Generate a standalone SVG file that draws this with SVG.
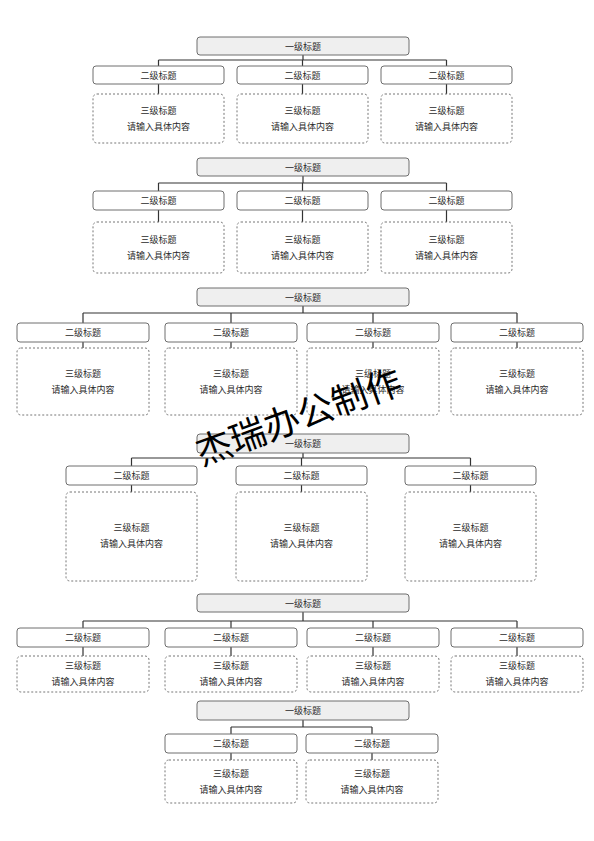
<svg xmlns="http://www.w3.org/2000/svg" width="594" height="841" viewBox="0 0 594 841">
<style>
.bg{fill:#ffffff}
.l1{fill:#efefef;stroke:#6e6e6e;stroke-width:1}
.l2{fill:#ffffff;stroke:#6e6e6e;stroke-width:1}
.l3{fill:#ffffff;stroke:#777777;stroke-width:1;stroke-dasharray:2 2}
.c{fill:none;stroke:#333333;stroke-width:1.2}
text{font-family:"Liberation Sans","Noto Sans CJK SC",sans-serif;font-size:9px;fill:#2a2a2a;text-anchor:middle}
.wm{font-family:"Noto Sans CJK SC",sans-serif;font-size:36px;fill:#000000}
</style>
<rect class="bg" x="0" y="0" width="594" height="841"/>
<g id="connectors">
<path class="c" d="M303 55V60M158.5 60H446.5M158.5 60V66M302.5 60V66M446.5 60V66M158.5 84V94M302.5 84V94M446.5 84V94"/>
<path class="c" d="M303 176V183M158.5 183H446.5M158.5 183V191M302.5 183V191M446.5 183V191M158.5 210V222M302.5 210V222M446.5 210V222"/>
<path class="c" d="M303 306V313M83 313H517M83 313V323M231 313V323M373 313V323M517 313V323M83 342V348M231 342V348M373 342V348M517 342V348"/>
<path class="c" d="M303 453V458M131.5 458H470.5M131.5 458V466M301.5 458V466M470.5 458V466M131.5 485V492M301.5 485V492M470.5 485V492"/>
<path class="c" d="M303 612V621M83 621H517M83 621V628M231 621V628M373 621V628M517 621V628M83 647V656M231 647V656M373 647V656M517 647V656"/>
<path class="c" d="M303 720V727M231 727H372M231 727V734M372 727V734M231 753V760M372 753V760"/>
</g>
<!-- Section 1 -->
<g id="s1-l1"><rect class="l1" x="197" y="37" width="212" height="18" rx="3"/><text x="303" y="49.5">一级标题</text></g>
<g id="s1-l2-1"><rect class="l2" x="93" y="66" width="131" height="18" rx="3"/><text x="158.5" y="78.5">二级标题</text></g>
<g id="s1-l2-2"><rect class="l2" x="237" y="66" width="131" height="18" rx="3"/><text x="302.5" y="78.5">二级标题</text></g>
<g id="s1-l2-3"><rect class="l2" x="381" y="66" width="131" height="18" rx="3"/><text x="446.5" y="78.5">二级标题</text></g>
<g id="s1-l3-1"><rect class="l3" x="93" y="94" width="131" height="49" rx="4"/><text x="158.5" y="114">三级标题</text><text x="158.5" y="130">请输入具体内容</text></g>
<g id="s1-l3-2"><rect class="l3" x="237" y="94" width="131" height="49" rx="4"/><text x="302.5" y="114">三级标题</text><text x="302.5" y="130">请输入具体内容</text></g>
<g id="s1-l3-3"><rect class="l3" x="381" y="94" width="131" height="49" rx="4"/><text x="446.5" y="114">三级标题</text><text x="446.5" y="130">请输入具体内容</text></g>
<!-- Section 2 -->
<g id="s2-l1"><rect class="l1" x="197" y="158" width="212" height="18" rx="3"/><text x="303" y="170.5">一级标题</text></g>
<g id="s2-l2-1"><rect class="l2" x="93" y="191" width="131" height="19" rx="3"/><text x="158.5" y="204">二级标题</text></g>
<g id="s2-l2-2"><rect class="l2" x="237" y="191" width="131" height="19" rx="3"/><text x="302.5" y="204">二级标题</text></g>
<g id="s2-l2-3"><rect class="l2" x="381" y="191" width="131" height="19" rx="3"/><text x="446.5" y="204">二级标题</text></g>
<g id="s2-l3-1"><rect class="l3" x="93" y="222" width="131" height="51" rx="4"/><text x="158.5" y="243">三级标题</text><text x="158.5" y="259">请输入具体内容</text></g>
<g id="s2-l3-2"><rect class="l3" x="237" y="222" width="131" height="51" rx="4"/><text x="302.5" y="243">三级标题</text><text x="302.5" y="259">请输入具体内容</text></g>
<g id="s2-l3-3"><rect class="l3" x="381" y="222" width="131" height="51" rx="4"/><text x="446.5" y="243">三级标题</text><text x="446.5" y="259">请输入具体内容</text></g>
<!-- Section 3 -->
<g id="s3-l1"><rect class="l1" x="197" y="288" width="212" height="18" rx="3"/><text x="303" y="300.5">一级标题</text></g>
<g id="s3-l2-1"><rect class="l2" x="17" y="323" width="132" height="19" rx="3"/><text x="83" y="336">二级标题</text></g>
<g id="s3-l2-2"><rect class="l2" x="165" y="323" width="132" height="19" rx="3"/><text x="231" y="336">二级标题</text></g>
<g id="s3-l2-3"><rect class="l2" x="307" y="323" width="132" height="19" rx="3"/><text x="373" y="336">二级标题</text></g>
<g id="s3-l2-4"><rect class="l2" x="451" y="323" width="132" height="19" rx="3"/><text x="517" y="336">二级标题</text></g>
<g id="s3-l3-1"><rect class="l3" x="17" y="348" width="132" height="67" rx="4"/><text x="83" y="377">三级标题</text><text x="83" y="393">请输入具体内容</text></g>
<g id="s3-l3-2"><rect class="l3" x="165" y="348" width="132" height="67" rx="4"/><text x="231" y="377">三级标题</text><text x="231" y="393">请输入具体内容</text></g>
<g id="s3-l3-3"><rect class="l3" x="307" y="348" width="132" height="67" rx="4"/><text x="373" y="377">三级标题</text><text x="373" y="393">请输入具体内容</text></g>
<g id="s3-l3-4"><rect class="l3" x="451" y="348" width="132" height="67" rx="4"/><text x="517" y="377">三级标题</text><text x="517" y="393">请输入具体内容</text></g>
<!-- Section 4 -->
<g id="s4-l1"><rect class="l1" x="197" y="434" width="212" height="19" rx="3"/><text x="303" y="447">一级标题</text></g>
<g id="s4-l2-1"><rect class="l2" x="66" y="466" width="131" height="19" rx="3"/><text x="131.5" y="479">二级标题</text></g>
<g id="s4-l2-2"><rect class="l2" x="236" y="466" width="131" height="19" rx="3"/><text x="301.5" y="479">二级标题</text></g>
<g id="s4-l2-3"><rect class="l2" x="405" y="466" width="131" height="19" rx="3"/><text x="470.5" y="479">二级标题</text></g>
<g id="s4-l3-1"><rect class="l3" x="66" y="492" width="131" height="89" rx="4"/><text x="131.5" y="531">三级标题</text><text x="131.5" y="547">请输入具体内容</text></g>
<g id="s4-l3-2"><rect class="l3" x="236" y="492" width="131" height="89" rx="4"/><text x="301.5" y="531">三级标题</text><text x="301.5" y="547">请输入具体内容</text></g>
<g id="s4-l3-3"><rect class="l3" x="405" y="492" width="131" height="89" rx="4"/><text x="470.5" y="531">三级标题</text><text x="470.5" y="547">请输入具体内容</text></g>
<!-- Section 5 -->
<g id="s5-l1"><rect class="l1" x="197" y="594" width="212" height="18" rx="3"/><text x="303" y="606.5">一级标题</text></g>
<g id="s5-l2-1"><rect class="l2" x="17" y="628" width="132" height="19" rx="3"/><text x="83" y="641">二级标题</text></g>
<g id="s5-l2-2"><rect class="l2" x="165" y="628" width="132" height="19" rx="3"/><text x="231" y="641">二级标题</text></g>
<g id="s5-l2-3"><rect class="l2" x="307" y="628" width="132" height="19" rx="3"/><text x="373" y="641">二级标题</text></g>
<g id="s5-l2-4"><rect class="l2" x="451" y="628" width="132" height="19" rx="3"/><text x="517" y="641">二级标题</text></g>
<g id="s5-l3-1"><rect class="l3" x="17" y="656" width="132" height="36" rx="4"/><text x="83" y="669">三级标题</text><text x="83" y="685">请输入具体内容</text></g>
<g id="s5-l3-2"><rect class="l3" x="165" y="656" width="132" height="36" rx="4"/><text x="231" y="669">三级标题</text><text x="231" y="685">请输入具体内容</text></g>
<g id="s5-l3-3"><rect class="l3" x="307" y="656" width="132" height="36" rx="4"/><text x="373" y="669">三级标题</text><text x="373" y="685">请输入具体内容</text></g>
<g id="s5-l3-4"><rect class="l3" x="451" y="656" width="132" height="36" rx="4"/><text x="517" y="669">三级标题</text><text x="517" y="685">请输入具体内容</text></g>
<!-- Section 6 -->
<g id="s6-l1"><rect class="l1" x="197" y="701" width="212" height="19" rx="3"/><text x="303" y="714">一级标题</text></g>
<g id="s6-l2-1"><rect class="l2" x="165" y="734" width="132" height="19" rx="3"/><text x="231" y="747">二级标题</text></g>
<g id="s6-l2-2"><rect class="l2" x="306" y="734" width="132" height="19" rx="3"/><text x="372" y="747">二级标题</text></g>
<g id="s6-l3-1"><rect class="l3" x="165" y="760" width="132" height="43" rx="4"/><text x="231" y="777">三级标题</text><text x="231" y="793">请输入具体内容</text></g>
<g id="s6-l3-2"><rect class="l3" x="306" y="760" width="132" height="43" rx="4"/><text x="372" y="777">三级标题</text><text x="372" y="793">请输入具体内容</text></g>
<!-- Watermark -->
<g id="watermark"><text class="wm" x="303" y="429" transform="rotate(-20 303 429)">杰瑞办公制作</text></g>
</svg>
